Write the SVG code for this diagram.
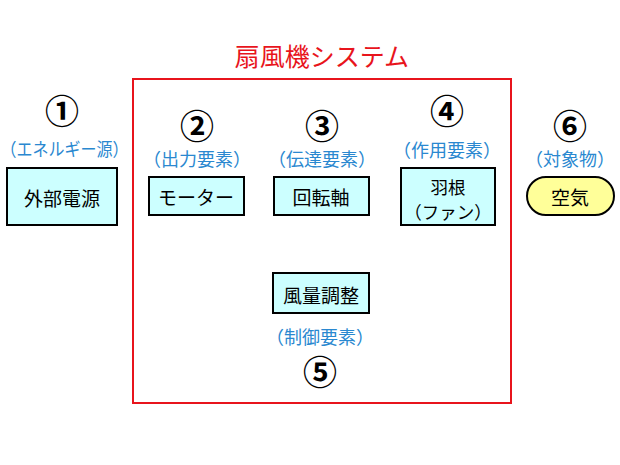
<svg xmlns="http://www.w3.org/2000/svg" width="620" height="465" viewBox="0 0 620 465">
<style>
text{font-family:"Noto Sans CJK JP","Noto Sans",sans-serif;text-anchor:middle;dominant-baseline:central}
.box{fill:#CCFFFF;stroke:#000;stroke-width:2}
.pill{fill:#FFFF99;stroke:#000;stroke-width:2}
.num{font-size:34px;font-weight:bold;fill:#000}
.role{font-size:18px;fill:#2A88D0}
.lbl{font-size:19px;fill:#000}
.lbl2{font-size:17.5px;fill:#000}
.title{font-size:25px;fill:#E8141C}
</style>
<rect width="620" height="465" fill="#fff"/>
<g id="system">
<rect x="133" y="79" width="378" height="324" fill="none" stroke="#E8141C" stroke-width="2"/>
<text class="title" x="322" y="55">扇風機システム</text>
</g>
<g id="connectors"></g>
<g id="n1">
<text class="num" x="62" y="109">①</text>
<text class="role" x="64.5" y="148" textLength="128" lengthAdjust="spacingAndGlyphs">（エネルギー源）</text>
<rect class="box" x="7" y="168" width="110" height="57"/>
<text class="lbl" x="62" y="197">外部電源</text>
</g>
<g id="n2">
<text class="num" x="197" y="124">②</text>
<text class="role" x="197" y="158">（出力要素）</text>
<rect class="box" x="149" y="177" width="95" height="38"/>
<text class="lbl" x="196" y="196">モーター</text>
</g>
<g id="n3">
<text class="num" x="322" y="124">③</text>
<text class="role" x="322" y="158">（伝達要素）</text>
<rect class="box" x="274" y="177" width="95" height="38"/>
<text class="lbl" x="321" y="196">回転軸</text>
</g>
<g id="n4">
<text class="num" x="447" y="109">④</text>
<text class="role" x="447" y="149">（作用要素）</text>
<rect class="box" x="401" y="168" width="94" height="57"/>
<text class="lbl2" x="448" y="186">羽根</text>
<text class="lbl2" x="448" y="211.5">（ファン）</text>
</g>
<g id="n5">
<rect class="box" x="273" y="273" width="96" height="40"/>
<text class="lbl" x="321" y="294">風量調整</text>
<text class="role" x="320" y="336">（制御要素）</text>
<text class="num" x="320" y="370">⑤</text>
</g>
<g id="n6">
<text class="num" x="570" y="124">⑥</text>
<text class="role" x="570" y="158">（対象物）</text>
<rect class="pill" x="527" y="177" width="87" height="38" rx="19" ry="19"/>
<text class="lbl" x="570" y="196">空気</text>
</g>
</svg>
